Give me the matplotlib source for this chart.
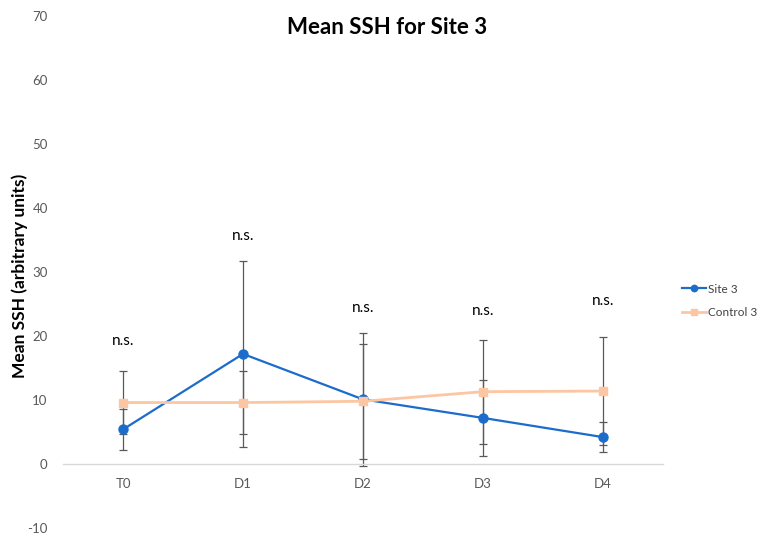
import numpy as np
import matplotlib.pyplot as plt

plt.rcParams['font.family'] = ['Lato', 'DejaVu Sans']
plt.rcParams['axes.unicode_minus'] = False

# time points and group means (arbitrary units)
timepoints = ['T0', 'D1', 'D2', 'D3', 'D4']
site_mean = [5.4, 17.2, 10.1, 7.2, 4.2]
site_err = [3.2, 14.5, 10.4, 5.9, 2.3]
control_mean = [9.6, 9.6, 9.8, 11.3, 11.4]
control_err = [4.9, 4.9, 9.0, 8.1, 8.4]
sig_labels = ['n.s.', 'n.s.', 'n.s.', 'n.s.', 'n.s.']
sig_heights = [19.2, 35.6, 24.4, 23.9, 25.5]

site_colour = '#1b6ccb'
control_colour = '#fcc6a2'
bar_colour = '#595959'

fig = plt.figure(figsize=(7.62, 5.36), dpi=100)
ax = fig.add_axes([63 / 762, 8 / 536, 600 / 762, 512 / 536])

x = np.arange(len(timepoints))

ax.errorbar(x, site_mean, yerr=site_err, fmt='none', ecolor=bar_colour,
            elinewidth=0.9, capsize=3, capthick=0.9, zorder=2)
ax.errorbar(x, control_mean, yerr=control_err, fmt='none', ecolor=bar_colour,
            elinewidth=0.9, capsize=3, capthick=0.9, zorder=2)
ax.plot(x, site_mean, color=site_colour, lw=1.6, marker='o', ms=6.5,
        label='Site 3', zorder=3)
ax.plot(x, control_mean, color=control_colour, lw=2.0, marker='s', ms=6,
        label='Control 3', zorder=4)

for xi, lab, h in zip(x, sig_labels, sig_heights):
    ax.text(xi, h, lab, ha='center', va='center', fontsize=11, color='black')

ax.set_xlim(-0.5, len(timepoints) - 0.5)
ax.set_ylim(-10, 70)
ax.set_yticks(np.arange(-10, 71, 10))
ax.set_xticks(x)
ax.set_xticklabels(timepoints)

for side in ['top', 'right', 'left']:
    ax.spines[side].set_visible(False)
ax.spines['bottom'].set_position(('data', 0))
ax.spines['bottom'].set_color('#d9d9d9')
ax.spines['bottom'].set_linewidth(1.0)
ax.tick_params(axis='both', length=0, labelsize=9.5, labelcolor='#595959')
ax.tick_params(axis='y', pad=11)
ax.tick_params(axis='x', pad=10)

ax.set_ylabel('Mean SSH (arbitrary units)', fontsize=12.5, fontweight='bold')
ax.yaxis.set_label_coords(-35 / 600, (536 - 276 - 8) / 512)

fig.text(387 / 762, 1 - 28 / 536, 'Mean SSH for Site 3', ha='center',
         va='center', fontsize=16, fontweight='bold')

ax.legend(loc='center left', bbox_to_anchor=(674 / 762, 1 - 301 / 536),
          bbox_transform=fig.transFigure, frameon=False, fontsize=8.5,
          handlelength=2.0, handletextpad=0.15, labelspacing=1.1,
          markerscale=0.7, labelcolor='#404040', borderpad=0.2)

fig.savefig('out.png', dpi=100)
